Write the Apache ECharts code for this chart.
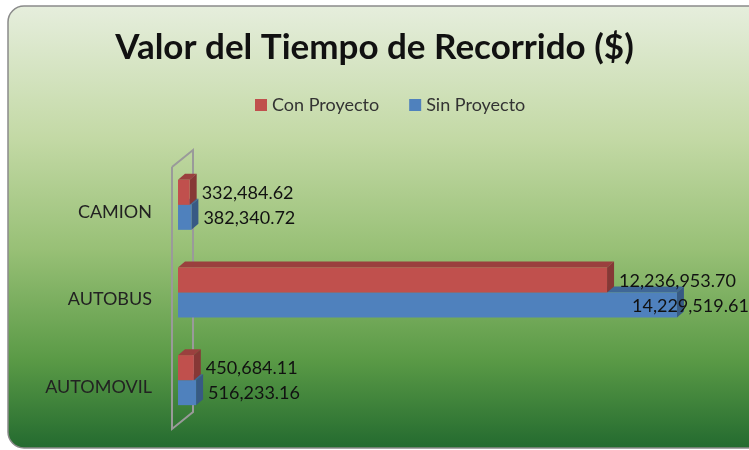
<!DOCTYPE html>
<html lang="es">
  <head>
    <meta charset="UTF-8" />
    <title>Valor del Tiempo de Recorrido</title>
    <script src="https://cdn.jsdelivr.net/npm/echarts@6/dist/echarts.min.js"></script>
    <style>
      body { margin: 0; background: #ffffff; }
    </style>
  </head>
  <body>
    <div id="main" style="width: 749px; height: 450px"></div>
    <script type="text/javascript">
      // data, categories bottom to top
      const categories = ["AUTOMOVIL", "AUTOBUS", "CAMION"];
      const conProyecto = [450684.11, 12236953.7, 332484.62];
      const sinProyecto = [516233.16, 14229519.61, 382340.72];

      const fontName = "Lato, 'Open Sans', sans-serif";

      let myChart = echarts.init(document.getElementById("main"));

      // darken a hex colour for the 3D faces
      function shade(hex, f) {
        const n = parseInt(hex.slice(1), 16);
        const r = Math.round(((n >> 16) & 255) * f);
        const g = Math.round(((n >> 8) & 255) * f);
        const b = Math.round((n & 255) * f);
        return "rgb(" + r + "," + g + "," + b + ")";
      }

      function fmt(v) {
        return v.toLocaleString("en-US", { minimumFractionDigits: 2, maximumFractionDigits: 2 });
      }

      // bar with a top and side face, like the 3D bars in the original
      function renderBar(params, api) {
        const val = api.value(0);
        const cat = api.value(1);
        const start = api.coord([0, cat]);
        const end = api.coord([val, cat]);
        const h = 25, dx = 7, dy = 6;
        const isCon = params.seriesName === "Con Proyecto";
        const y0 = isCon ? start[1] - h : start[1];
        const x0 = start[0], x1 = end[0];
        const color = api.visual("color");
        const tx = Math.min(x1 + dx + 5, api.getWidth() - 117);
        return {
          type: "group",
          children: [
            {
              type: "polygon",
              shape: { points: [[x0, y0], [x0 + dx, y0 - dy], [x1 + dx, y0 - dy], [x1, y0]] },
              style: { fill: shade(color, 0.8) },
            },
            {
              type: "polygon",
              shape: { points: [[x1, y0], [x1 + dx, y0 - dy], [x1 + dx, y0 + h - dy], [x1, y0 + h]] },
              style: { fill: shade(color, 0.7) },
            },
            {
              type: "rect",
              shape: { x: x0, y: y0, width: x1 - x0, height: h },
              style: { fill: color },
            },
            {
              type: "text",
              x: tx,
              y: y0 + h / 2 + 1,
              style: {
                text: fmt(val),
                fill: "#111",
                font: "18px " + fontName,
                verticalAlign: "middle",
                align: "left",
              },
            },
          ],
        };
      }

      let options = {
        backgroundColor: "transparent",
        textStyle: { fontFamily: fontName },
        graphic: [
          {
            type: "rect",
            z: -10,
            shape: { x: 8, y: 6, width: 780, height: 442, r: 16 },
            style: {
              stroke: "#8a8a8a",
              lineWidth: 1.5,
              fill: new echarts.graphic.LinearGradient(0, 0, 0, 1, [
                { offset: 0, color: "#e6eedd" },
                { offset: 0.3, color: "#c3d9a5" },
                { offset: 0.55, color: "#98c076" },
                { offset: 0.8, color: "#5a9a46" },
                { offset: 1, color: "#236a2f" },
              ]),
            },
          },
          {
            type: "polyline",
            z: -5,
            shape: { points: [[172, 167], [193, 150], [193, 412], [172, 429], [172, 167]] },
            style: { stroke: "#9a9a9a", lineWidth: 2, fill: null },
          },
        ],
        title: {
          text: "Valor del Tiempo de Recorrido ($)",
          left: "center",
          top: 25,
          textStyle: { fontSize: 35, fontWeight: "bold", color: "#111", fontFamily: fontName },
        },
        legend: {
          data: ["Con Proyecto", "Sin Proyecto"],
          top: 91,
          left: 250,
          icon: "rect",
          itemWidth: 12,
          itemHeight: 12,
          itemGap: 30,
          textStyle: { fontSize: 18, color: "#333", fontFamily: fontName },
        },
        grid: { left: 178, right: 10, top: 161, bottom: 26 },
        xAxis: { type: "value", min: 0, max: 16000000, show: false },
        yAxis: {
          type: "category",
          data: categories,
          axisLine: { show: false },
          axisTick: { show: false },
          axisLabel: {
            fontSize: 18,
            color: "#222",
            margin: 26,
            verticalAlign: "top",
            lineHeight: 14,
            fontFamily: fontName,
          },
        },
        series: [
          {
            name: "Sin Proyecto",
            type: "custom",
            renderItem: renderBar,
            itemStyle: { color: "#4f81bd" },
            encode: { x: 0, y: 1 },
            data: sinProyecto.map((v, i) => [v, i]),
          },
          {
            name: "Con Proyecto",
            type: "custom",
            renderItem: renderBar,
            itemStyle: { color: "#c0504d" },
            encode: { x: 0, y: 1 },
            data: conProyecto.map((v, i) => [v, i]),
          },
        ],
      };

      myChart.setOption(options);
    </script>
  </body>
</html>
